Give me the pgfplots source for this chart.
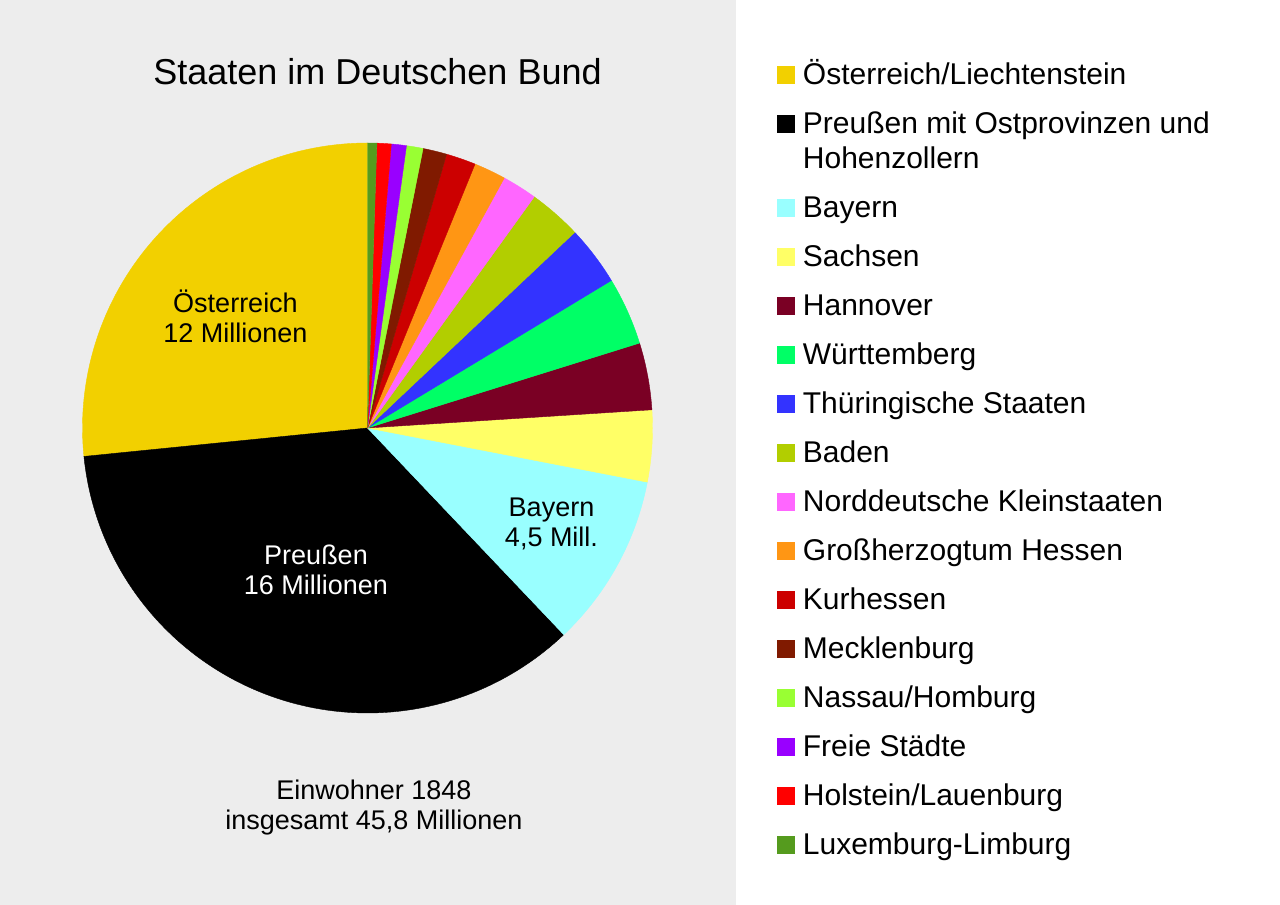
\documentclass[border=0pt]{standalone}
\usepackage{pgfplots}
\pgfplotsset{compat=1.18}
\usepackage{pgfplotstable}
\usepackage{fontspec}
\setmainfont{Liberation Sans}

\definecolor{bg}{RGB}{237,237,237}
\definecolor{cOe}{RGB}{242,208,0}
\definecolor{cPr}{RGB}{0,0,0}
\definecolor{cBy}{RGB}{153,255,255}
\definecolor{cSa}{RGB}{255,255,102}
\definecolor{cHa}{RGB}{122,0,36}
\definecolor{cWu}{RGB}{0,255,102}
\definecolor{cTh}{RGB}{51,51,255}
\definecolor{cBa}{RGB}{178,206,0}
\definecolor{cNo}{RGB}{255,102,255}
\definecolor{cHe}{RGB}{255,150,20}
\definecolor{cKu}{RGB}{204,0,0}
\definecolor{cMe}{RGB}{128,26,0}
\definecolor{cNa}{RGB}{153,255,51}
\definecolor{cFr}{RGB}{153,0,255}
\definecolor{cHo}{RGB}{255,0,0}
\definecolor{cLu}{RGB}{85,155,30}

% population 1848 in millions (read from the pie)
\pgfplotstableread{
value color
12.18 cOe
16.26 cPr
4.52  cBy
1.86  cSa
1.74  cHa
1.76  cWu
1.55  cTh
1.38  cBa
0.905 cNo
0.83  cHe
0.77  cKu
0.62  cMe
0.43  cNa
0.39  cFr
0.37  cHo
0.24  cLu
}\popdata

\newcommand\legname[1]{\ifcase#1 Österreich/Liechtenstein\or Preußen\or Bayern\or Sachsen\or Hannover\or Württemberg\or Thüringische Staaten\or Baden\or Norddeutsche Kleinstaaten\or Großherzogtum Hessen\or Kurhessen\or Mecklenburg\or Nassau/Homburg\or Freie Städte\or Holstein/Lauenburg\or Luxemburg-Limburg\fi}

\pgfplotsset{
  squarelegend/.style={
    legend image code/.code={\fill[##1,draw=none] (0pt,0.25pt) rectangle (9pt,9.25pt);}
  }
}

\begin{document}
\begin{tikzpicture}
\useasboundingbox (0,0) rectangle (640pt,452.5pt);
\fill[white] (0,0) rectangle (640pt,452.5pt);
\fill[bg] (0,0) rectangle (368pt,452.5pt);
\begin{axis}[
  at={(0,0)}, anchor=south west,
  scale only axis, width=640pt, height=452.5pt,
  xmin=0, xmax=1280, ymin=0, ymax=905,
  hide axis, clip=false,
  squarelegend,
  legend style={at={(axis cs:777,845)}, anchor=north west, draw=none, fill=none,
    inner sep=0pt, row sep=7pt, column sep=3.75pt,
    font=\fontsize{15}{17.5}\selectfont,
    nodes={inner sep=0pt, text height=12.25pt, text depth=5.25pt},
    cells={anchor=base west}},
]
\pgfmathsetmacro\sltotal{0}
\pgfplotsforeachungrouped \i in {0,...,15}{%
  \pgfplotstablegetelem{\i}{value}\of\popdata
  \pgfmathsetmacro\sltotal{\sltotal+\pgfplotsretval}%
}
\pgfmathsetmacro\slcum{0}
\pgfplotsforeachungrouped \i in {0,...,15}{%
  \pgfplotstablegetelem{\i}{value}\of\popdata \let\slval\pgfplotsretval
  \pgfplotstablegetelem{\i}{color}\of\popdata \let\slcol\pgfplotsretval
  \pgfmathsetmacro\sla{90+(\slcum/\sltotal)*360}%
  \pgfmathsetmacro\slcum{\slcum+\slval}%
  \pgfmathsetmacro\slb{90+(\slcum/\sltotal)*360}%
  \edef\doplot{\noexpand\addplot[fill=\slcol, draw=\slcol, line width=0.2pt, line join=round,
     domain=\sla:\slb, samples=100, variable=\noexpand\t]
     ({367.5+285*cos(\noexpand\t)},{477+285*sin(\noexpand\t)}) -- (axis cs:367.5,477) -- cycle;}%
  \doplot
  \ifnum\i=1
    \addlegendentry[text depth=22.75pt]{\begin{tabular}[t]{@{}l@{}}Preußen mit Ostprovinzen und\\Hohenzollern\end{tabular}}%
  \else
    \edef\dolegend{\noexpand\addlegendentry{\legname{\i}}}%
    \dolegend
  \fi
}
\node[anchor=base, inner sep=0pt, font=\fontsize{18}{21}\selectfont] at (axis cs:377.5,820) {Staaten im Deutschen Bund};
\node[anchor=base, inner sep=0pt, font=\fontsize{13.5}{15}\selectfont] at (axis cs:235.5,592)
  {\begin{tabular}[t]{@{}c@{}}Österreich\\12 Millionen\end{tabular}};
\node[anchor=base, inner sep=0pt, text=white, font=\fontsize{13.5}{15}\selectfont] at (axis cs:316,340)
  {\begin{tabular}[t]{@{}c@{}}Preußen\\16 Millionen\end{tabular}};
\node[anchor=base, inner sep=0pt, font=\fontsize{13.5}{15}\selectfont] at (axis cs:551.5,388.3)
  {\begin{tabular}[t]{@{}c@{}}Bayern\\4,5 Mill.\end{tabular}};
\node[anchor=base, inner sep=0pt, font=\fontsize{13.5}{15}\selectfont] at (axis cs:374,105.7)
  {\begin{tabular}[t]{@{}c@{}}Einwohner 1848\\insgesamt 45,8 Millionen\end{tabular}};
\end{axis}
\end{tikzpicture}
\end{document}
